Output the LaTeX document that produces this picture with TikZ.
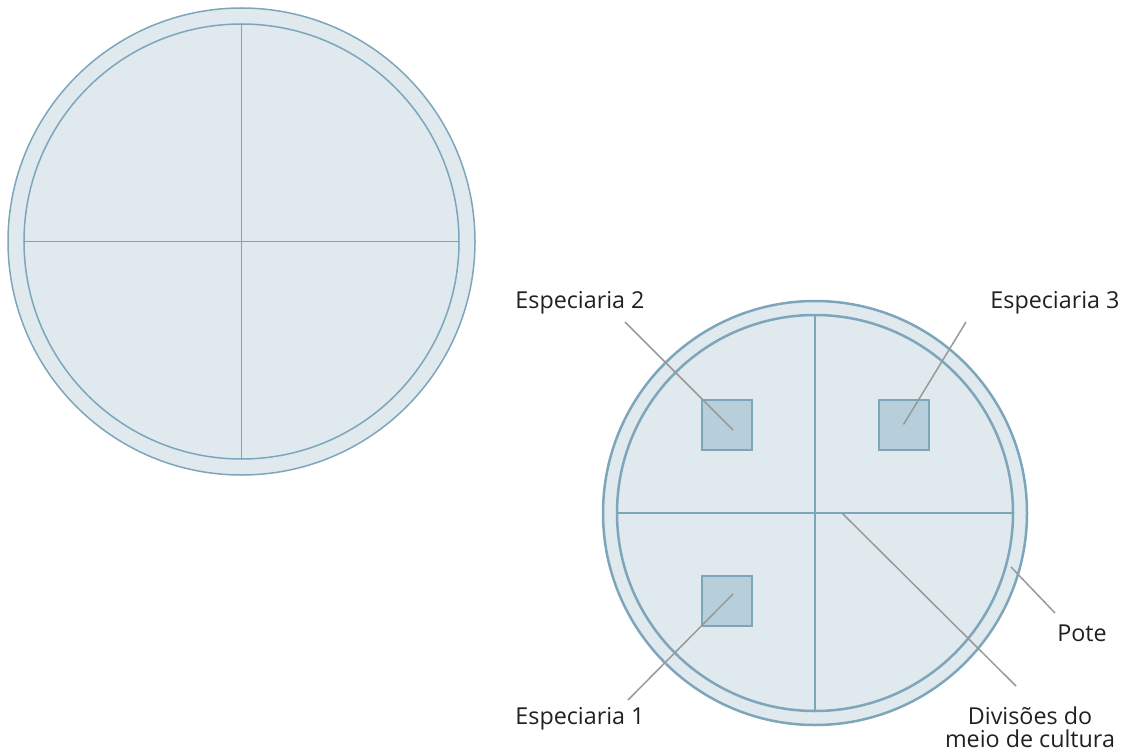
\documentclass[tikz,border=0pt]{standalone}
\usepackage{fontspec}
\setmainfont{Open Sans}
\definecolor{dishfill}{HTML}{DFE9EE}
\definecolor{dishline}{HTML}{7EA6BB}
\definecolor{spicefill}{HTML}{B7CFDB}
\definecolor{leader}{HTML}{999999}
\definecolor{txt}{HTML}{231F20}
\begin{document}
\begin{tikzpicture}[x=1pt,y=-1pt,
  dish/.style={circle,draw=dishline,fill=dishfill,inner sep=0pt},
  spice/.style={rectangle,draw=dishline,fill=spicefill,line width=2pt,minimum size=50pt,inner sep=0pt},
  divline/.style={draw=dishline},
  leadline/.style={draw=leader,line width=1.5pt},
  lbl/.style={text=txt,font=\fontsize{23.3}{23}\selectfont,inner sep=0pt,align=center}]
\useasboundingbox (0,0) rectangle (1124,754);
% left dish
\node[dish,line width=1.5pt,minimum size=467pt] (L) at (241.5,241.5) {};
\node[dish,line width=1.5pt,minimum size=435pt] (Li) at (241.5,241.5) {};
\draw[divline,line width=1.5pt] (Li.north) -- (Li.south);
\draw[divline,line width=1.5pt] (Li.west) -- (Li.east);
% right dish
\node[dish,line width=2.5pt,minimum size=424pt] (R) at (815,513) {};
\node[dish,line width=2.5pt,minimum size=396pt] (Ri) at (815,513) {};
\draw[divline,line width=2.5pt] (Ri.north) -- (Ri.south);
\draw[divline,line width=2.5pt] (Ri.west) -- (Ri.east);
% spices
\node[spice] (s2) at (727,424.5) {};
\node[spice] (s3) at (903.5,424.5) {};
\node[spice] (s1) at (727,600.5) {};
% labels
\node[lbl] (l2) at (580,303) {Especiaria 2};
\node[lbl] (l3) at (1055,303) {Especiaria 3};
\node[lbl] (l1) at (580,719) {Especiaria 1};
\node[lbl] (lp) at (1082,633) {Pote};
\node[lbl] (ld) at (1030,727) {Divisões do\\meio de cultura};
% leader ends
\coordinate (e2) at (625,322);
\coordinate (e3) at (966,322);
\coordinate (e1) at (628,700);
\coordinate (ep) at (1055,613);
\coordinate (ed) at (1016,686);
\coordinate (pp) at (1011,567);
\coordinate (dd) at (842,513);
\draw[leadline] (e2) -- (733,430);
\draw[leadline] (e3) -- (903.5,424.5);
\draw[leadline] (e1) -- (733,594);
\draw[leadline] (ep) -- (pp);
\draw[leadline] (ed) -- (dd);
\end{tikzpicture}
\end{document}
